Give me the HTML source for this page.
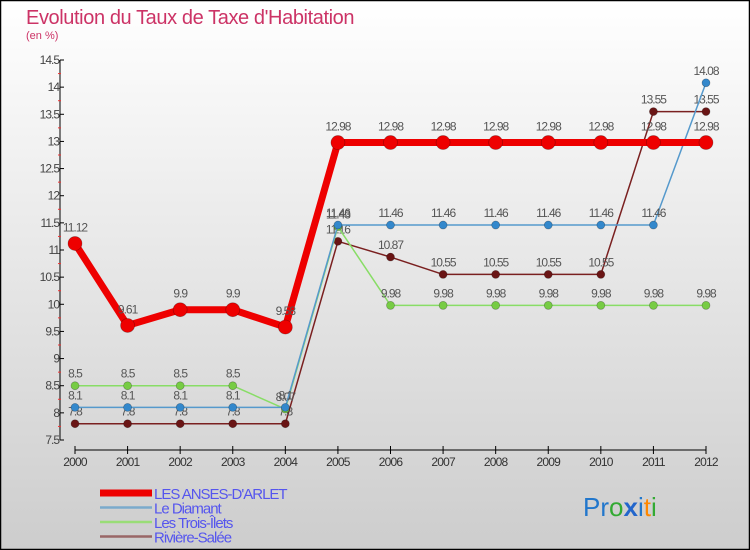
<!DOCTYPE html>
<html><head><meta charset="utf-8"><style>
body{margin:0;}
#wrap{width:750px;height:550px;position:relative;overflow:hidden;font-family:"Liberation Sans",sans-serif;}
svg text{font-family:"Liberation Sans",sans-serif;}
</style></head><body>
<div id="wrap">
<svg id="chart" width="750" height="550" xmlns="http://www.w3.org/2000/svg">
<defs><linearGradient id="bg" x1="0" y1="0" x2="0" y2="1"><stop offset="0" stop-color="#ffffff"/><stop offset="1" stop-color="#cdcdcd"/></linearGradient></defs>
<rect x="0.5" y="0.5" width="749" height="549" fill="url(#bg)" stroke="#000" stroke-width="1.5"/>
<text x="26" y="24" font-size="20" fill="#cc3366" style="letter-spacing:-0.4px">Evolution du Taux de Taxe d'Habitation</text>
<text x="26" y="39" font-size="11" fill="#cc3366">(en %)</text>
<g id="axes"></g><g id="series"></g><g id="legend"></g>
<text x="583" y="516" font-size="26"><tspan fill="#2277cc">P</tspan><tspan fill="#2277cc">r</tspan><tspan fill="#33aa33">o</tspan><tspan fill="#2266cc" font-weight="bold">x</tspan><tspan fill="#2277cc">i</tspan><tspan fill="#ff8800">t</tspan><tspan fill="#33aa33">i</tspan></text>
</svg></div>
<script>
const years=[2000,2001,2002,2003,2004,2005,2006,2007,2008,2009,2010,2011,2012];
const anses=[11.12,9.61,9.9,9.9,9.58,12.98,12.98,12.98,12.98,12.98,12.98,12.98,12.98];
const diamant=[8.1,8.1,8.1,8.1,8.1,11.46,11.46,11.46,11.46,11.46,11.46,11.46,14.08];
const trois=[8.5,8.5,8.5,8.5,8.07,11.43,9.98,9.98,9.98,9.98,9.98,9.98,9.98];
const riviere=[7.8,7.8,7.8,7.8,7.8,11.16,10.87,10.55,10.55,10.55,10.55,13.55,13.55];
const yTicks=[7.5,8,8.5,9,9.5,10,10.5,11,11.5,12,12.5,13,13.5,14,14.5];
const seriesNames=["LES ANSES-D'ARLET","Le Diamant","Les Trois-Îlets","Rivière-Salée"];
const NS="http://www.w3.org/2000/svg";
const yMin=7.5,yMax=14.5,py0=440,py1=60,px0=75,px1=706;
const X=i=>px0+(px1-px0)*i/(years.length-1);
const Y=v=>py0-(v-yMin)/(yMax-yMin)*(py0-py1);
function mk(tag,at,parent){const e=document.createElementNS(NS,tag);for(const k in at)e.setAttribute(k,at[k]);parent.appendChild(e);return e;}
const axes=document.getElementById('axes');
let e=mk('line',{x1:60,y1:py1,x2:60,y2:py0,stroke:'#000'},axes);


yTicks.forEach((t,i)=>{
 const y=Y(t);
 let l=mk('line',{x1:60,y1:y,x2:64,y2:y,stroke:'#000'},axes);
 
 
 if(i<yTicks.length-1){let m=mk('line',{x1:58,y1:y-(py0-py1)/28,x2:61,y2:y-(py0-py1)/28,stroke:'#e33'},axes);
 
 }
 let tx=mk('text',{x:59,y:y+4,'font-size':12,fill:'#444','text-anchor':'end','letter-spacing':'-1'},axes);
 tx.textContent=String(t);
 
 
});
e=mk('line',{x1:px0,y1:450,x2:px1,y2:450,stroke:'#000'},axes);


years.forEach((yr,i)=>{
 let l=mk('line',{x1:X(i),y1:446,x2:X(i),y2:454,stroke:'#000'},axes);
 
 
 let tx=mk('text',{x:X(i),y:466,'font-size':12,fill:'#333','text-anchor':'middle','letter-spacing':'-0.8'},axes);
 tx.textContent=String(yr);
 
 
});
const ser=document.getElementById('series');
const defs=[{d:riviere,c:'#7a2020',w:1.5,r:4,pc:'#6a1515',n:'riviere-salee'},{d:trois,c:'#88dd66',w:1.5,r:4,pc:'#77cc44',n:'trois-ilets'},{d:diamant,c:'#5599cc',w:1.5,r:4,pc:'#3388cc',n:'le-diamant'},{d:anses,c:'#ee0000',w:7,r:7,pc:'#ee0000',n:'anses-darlet'}];
defs.forEach(s=>{
 const g=mk('g',{},ser);
 
 
 const p=mk('polyline',{points:s.d.map((v,i)=>X(i)+','+Y(v)).join(' '),fill:'none',stroke:s.c,'stroke-width':s.w,'stroke-linejoin':'round'},g);
 
 
 s.d.forEach((v,i)=>{
  const c=mk('circle',{cx:X(i),cy:Y(v),r:s.r,fill:s.pc,stroke:'rgba(0,0,0,0.3)','stroke-width':0.7},g);
  
  
  const t=mk('text',{x:X(i),y:Y(v)-(s.w>3?12:8),'font-size':12,fill:'#555','text-anchor':'middle','letter-spacing':'-1'},g);
  t.textContent=String(v);
  
  
 });
});
const leg=document.getElementById('legend');
const lc=[['#ee0000',7],['#7aaacc',2.5],['#99dd77',2.5],['#996666',2.5]];
seriesNames.forEach((n,i)=>{
 const y=493+i*14.5;
 const l=mk('line',{x1:100,y1:y,x2:152,y2:y,stroke:lc[i][0],'stroke-width':lc[i][1]},leg);
 
 
 const t=mk('text',{x:154,y:y+6,'font-size':15,fill:'#5555ee','letter-spacing':'-1'},leg);
 t.textContent=n;
 
 
});
</script>
</body></html>
